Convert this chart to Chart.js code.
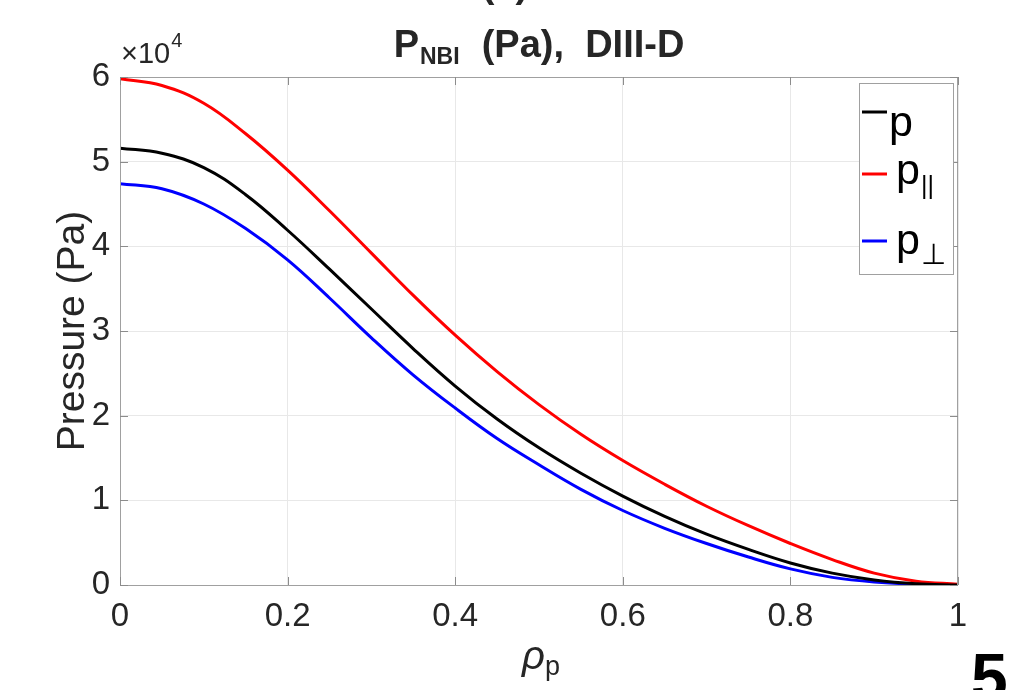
<!DOCTYPE html>
<html>
<head>
<meta charset="utf-8">
<title>P_NBI (Pa), DIII-D</title>
<script src="https://cdn.jsdelivr.net/npm/chart.js@4.4.1/dist/chart.umd.min.js"></script>
<style>
  body { margin: 0; background: #fff; }
  #wrap { width: 1009px; height: 690px; }
</style>
</head>
<body>
<div id="wrap"><canvas id="chart" width="1009" height="690"></canvas></div>
<script>
// normalised poloidal flux coordinate
const rho = [0, 0.05, 0.1, 0.15, 0.2, 0.25, 0.3, 0.35, 0.4, 0.45, 0.5,
             0.55, 0.6, 0.65, 0.7, 0.75, 0.8, 0.85, 0.9, 0.95, 1];

// pressures in units of 1e4 Pa
const pTotal = [5.16, 5.10, 4.93, 4.61, 4.19, 3.73, 3.26, 2.79, 2.35, 1.96, 1.62,
                1.32, 1.05, 0.81, 0.60, 0.42, 0.26, 0.14, 0.06, 0.015, 0];
const pPar   = [5.98, 5.90, 5.69, 5.33, 4.90, 4.42, 3.92, 3.42, 2.95, 2.52, 2.13,
                1.78, 1.47, 1.19, 0.93, 0.70, 0.49, 0.30, 0.14, 0.045, 0.01];
const pPerp  = [4.74, 4.68, 4.50, 4.21, 3.84, 3.39, 2.92, 2.48, 2.09, 1.73, 1.42,
                1.13, 0.88, 0.67, 0.49, 0.33, 0.19, 0.09, 0.035, 0.01, 0];

const xTicks = [0, 0.2, 0.4, 0.6, 0.8, 1];
const yTicks = [0, 1, 2, 3, 4, 5, 6];

const legendBase = ['p', 'p', 'p'];
const legendSub = ['', '||', '\u22A5'];

const FONT = "'Liberation Sans', Arial, Helvetica, sans-serif";
const TEXT = '#262626';

function toPoints(ys) {
    return rho.map((x, i) => ({ x: x, y: ys[i] }));
}

function line(label, ys, color) {
    return {
        label: label,
        data: toPoints(ys),
        borderColor: color,
        backgroundColor: color,
        borderWidth: 3,
        pointRadius: 0,
        fill: false,
        tension: 0.4
    };
}

// extra drawing: box, inward ticks, title, exponent, legend, axis label
const decorations = {
    id: 'decorations',
    afterDraw(chart) {
        const ctx = chart.ctx;
        const a = chart.chartArea;
        const xs = chart.scales.x;
        const ys = chart.scales.y;
        ctx.save();

        // axes box
        ctx.strokeStyle = '#a0a0a0';
        ctx.lineWidth = 1;
        ctx.strokeRect(a.left + 0.5, a.top + 0.5, a.right - a.left - 1, a.bottom - a.top);

        // inward tick marks on all four sides
        ctx.strokeStyle = '#8c8c8c';
        ctx.beginPath();
        xTicks.forEach(v => {
            const px = Math.round(xs.getPixelForValue(v)) + 0.5;
            ctx.moveTo(px, a.bottom); ctx.lineTo(px, a.bottom - 8);
            ctx.moveTo(px, a.top); ctx.lineTo(px, a.top + 8);
        });
        yTicks.forEach(v => {
            const py = Math.round(ys.getPixelForValue(v)) + 0.5;
            ctx.moveTo(a.left, py); ctx.lineTo(a.left + 8, py);
            ctx.moveTo(a.right, py); ctx.lineTo(a.right - 8, py);
        });
        ctx.stroke();

        ctx.fillStyle = TEXT;
        ctx.textBaseline = 'alphabetic';

        // title with subscript
        const big = 'bold 38px ' + FONT;
        const small = 'bold 23px ' + FONT;
        ctx.font = big;
        const wP = ctx.measureText('P').width;
        const rest = '  (Pa),  DIII-D';
        const wRest = ctx.measureText(rest).width;
        ctx.font = small;
        const wSub = ctx.measureText('NBI').width;
        let tx = (a.left + a.right) / 2 - (wP + wSub + 2 + wRest) / 2;
        ctx.font = big;
        ctx.textAlign = 'left';
        ctx.fillText('P', tx, 57);
        ctx.font = small;
        ctx.fillText('NBI', tx + wP + 1, 64);
        ctx.font = big;
        ctx.fillText(rest, tx + wP + wSub + 2, 57);

        // panel tag, mostly clipped by the top edge
        ctx.textAlign = 'center';
        ctx.fillText('(a)', 505, -3);

        // exponent
        ctx.textAlign = 'left';
        ctx.font = '29px ' + FONT;
        ctx.fillText('\u00D710', 121, 63);
        const wE = ctx.measureText('\u00D710').width;
        ctx.font = '20px ' + FONT;
        ctx.fillText('4', 121 + wE + 1, 47);

        // x axis label rho_p
        ctx.font = 'italic 40px ' + FONT;
        const wRho = ctx.measureText('\u03C1').width;
        const cx = (a.left + a.right) / 2;
        ctx.fillText('\u03C1', cx - 17, 669);
        ctx.font = '27px ' + FONT;
        ctx.fillText('p', cx - 17 + wRho, 675);

        // legend
        const lx = 859, ly = 83, lw = 94, lh = 191;
        ctx.fillStyle = '#ffffff';
        ctx.fillRect(lx, ly, lw, lh);
        ctx.strokeStyle = '#a0a0a0';
        ctx.lineWidth = 1;
        ctx.strokeRect(lx + 0.5, ly + 0.5, lw, lh);
        const rowLine = [112, 174, 241];
        const rowBase = [136, 184, 254];
        const textX = [889, 896, 896];
        chart.data.datasets.forEach((ds, i) => {
            ctx.strokeStyle = ds.borderColor;
            ctx.lineWidth = 3;
            ctx.beginPath();
            ctx.moveTo(862, rowLine[i]);
            ctx.lineTo(887, rowLine[i]);
            ctx.stroke();
            ctx.fillStyle = '#000';
            ctx.font = '43px ' + FONT;
            ctx.fillText(legendBase[i], textX[i], rowBase[i]);
            if (legendSub[i]) {
                const w = ctx.measureText(legendBase[i]).width;
                ctx.font = (i === 2 ? '29px ' : '25px ') + FONT;
                ctx.fillText(legendSub[i], textX[i] + w + 1, rowBase[i] + 10);
            }
        });

        // figure number at bottom right, clipped
        ctx.fillStyle = '#000';
        ctx.font = 'bold 66px ' + FONT;
        ctx.fillText('5', 971, 700);

        ctx.restore();
    }
};

new Chart(document.getElementById('chart'), {
    type: 'line',
    data: {
        datasets: [
            line('p', pTotal, '#000000'),
            line('p_par', pPar, '#ff0000'),
            line('p_perp', pPerp, '#0000ff')
        ]
    },
    options: {
        responsive: false,
        animation: false,
        devicePixelRatio: 1,
        layout: { padding: { left: 0, top: 77, right: 51, bottom: 0 } },
        plugins: {
            legend: { display: false },
            title: { display: false },
            tooltip: { enabled: false }
        },
        scales: {
            x: {
                type: 'linear',
                min: 0,
                max: 1,
                afterFit(s) { s.height = 105; },
                afterBuildTicks(s) { s.ticks = xTicks.map(v => ({ value: v })); },
                grid: { color: '#e8e8e8', drawTicks: false },
                border: { display: false },
                ticks: {
                    padding: 12,
                    color: TEXT,
                    font: { family: FONT, size: 33 },
                    maxRotation: 0,
                    callback: v => String(v)
                }
            },
            y: {
                type: 'linear',
                min: 0,
                max: 6,
                afterFit(s) { s.width = 120; },
                afterBuildTicks(s) { s.ticks = yTicks.map(v => ({ value: v })); },
                grid: { color: '#e8e8e8', drawTicks: false },
                border: { display: false },
                ticks: {
                    padding: 10,
                    color: TEXT,
                    font: { family: FONT, size: 33 },
                    callback: v => String(v)
                },
                title: {
                    display: true,
                    text: 'Pressure (Pa)',
                    color: TEXT,
                    font: { family: FONT, size: 39 },
                    padding: { top: 50, bottom: 0 }
                }
            }
        }
    },
    plugins: [decorations]
});
</script>
</body>
</html>
